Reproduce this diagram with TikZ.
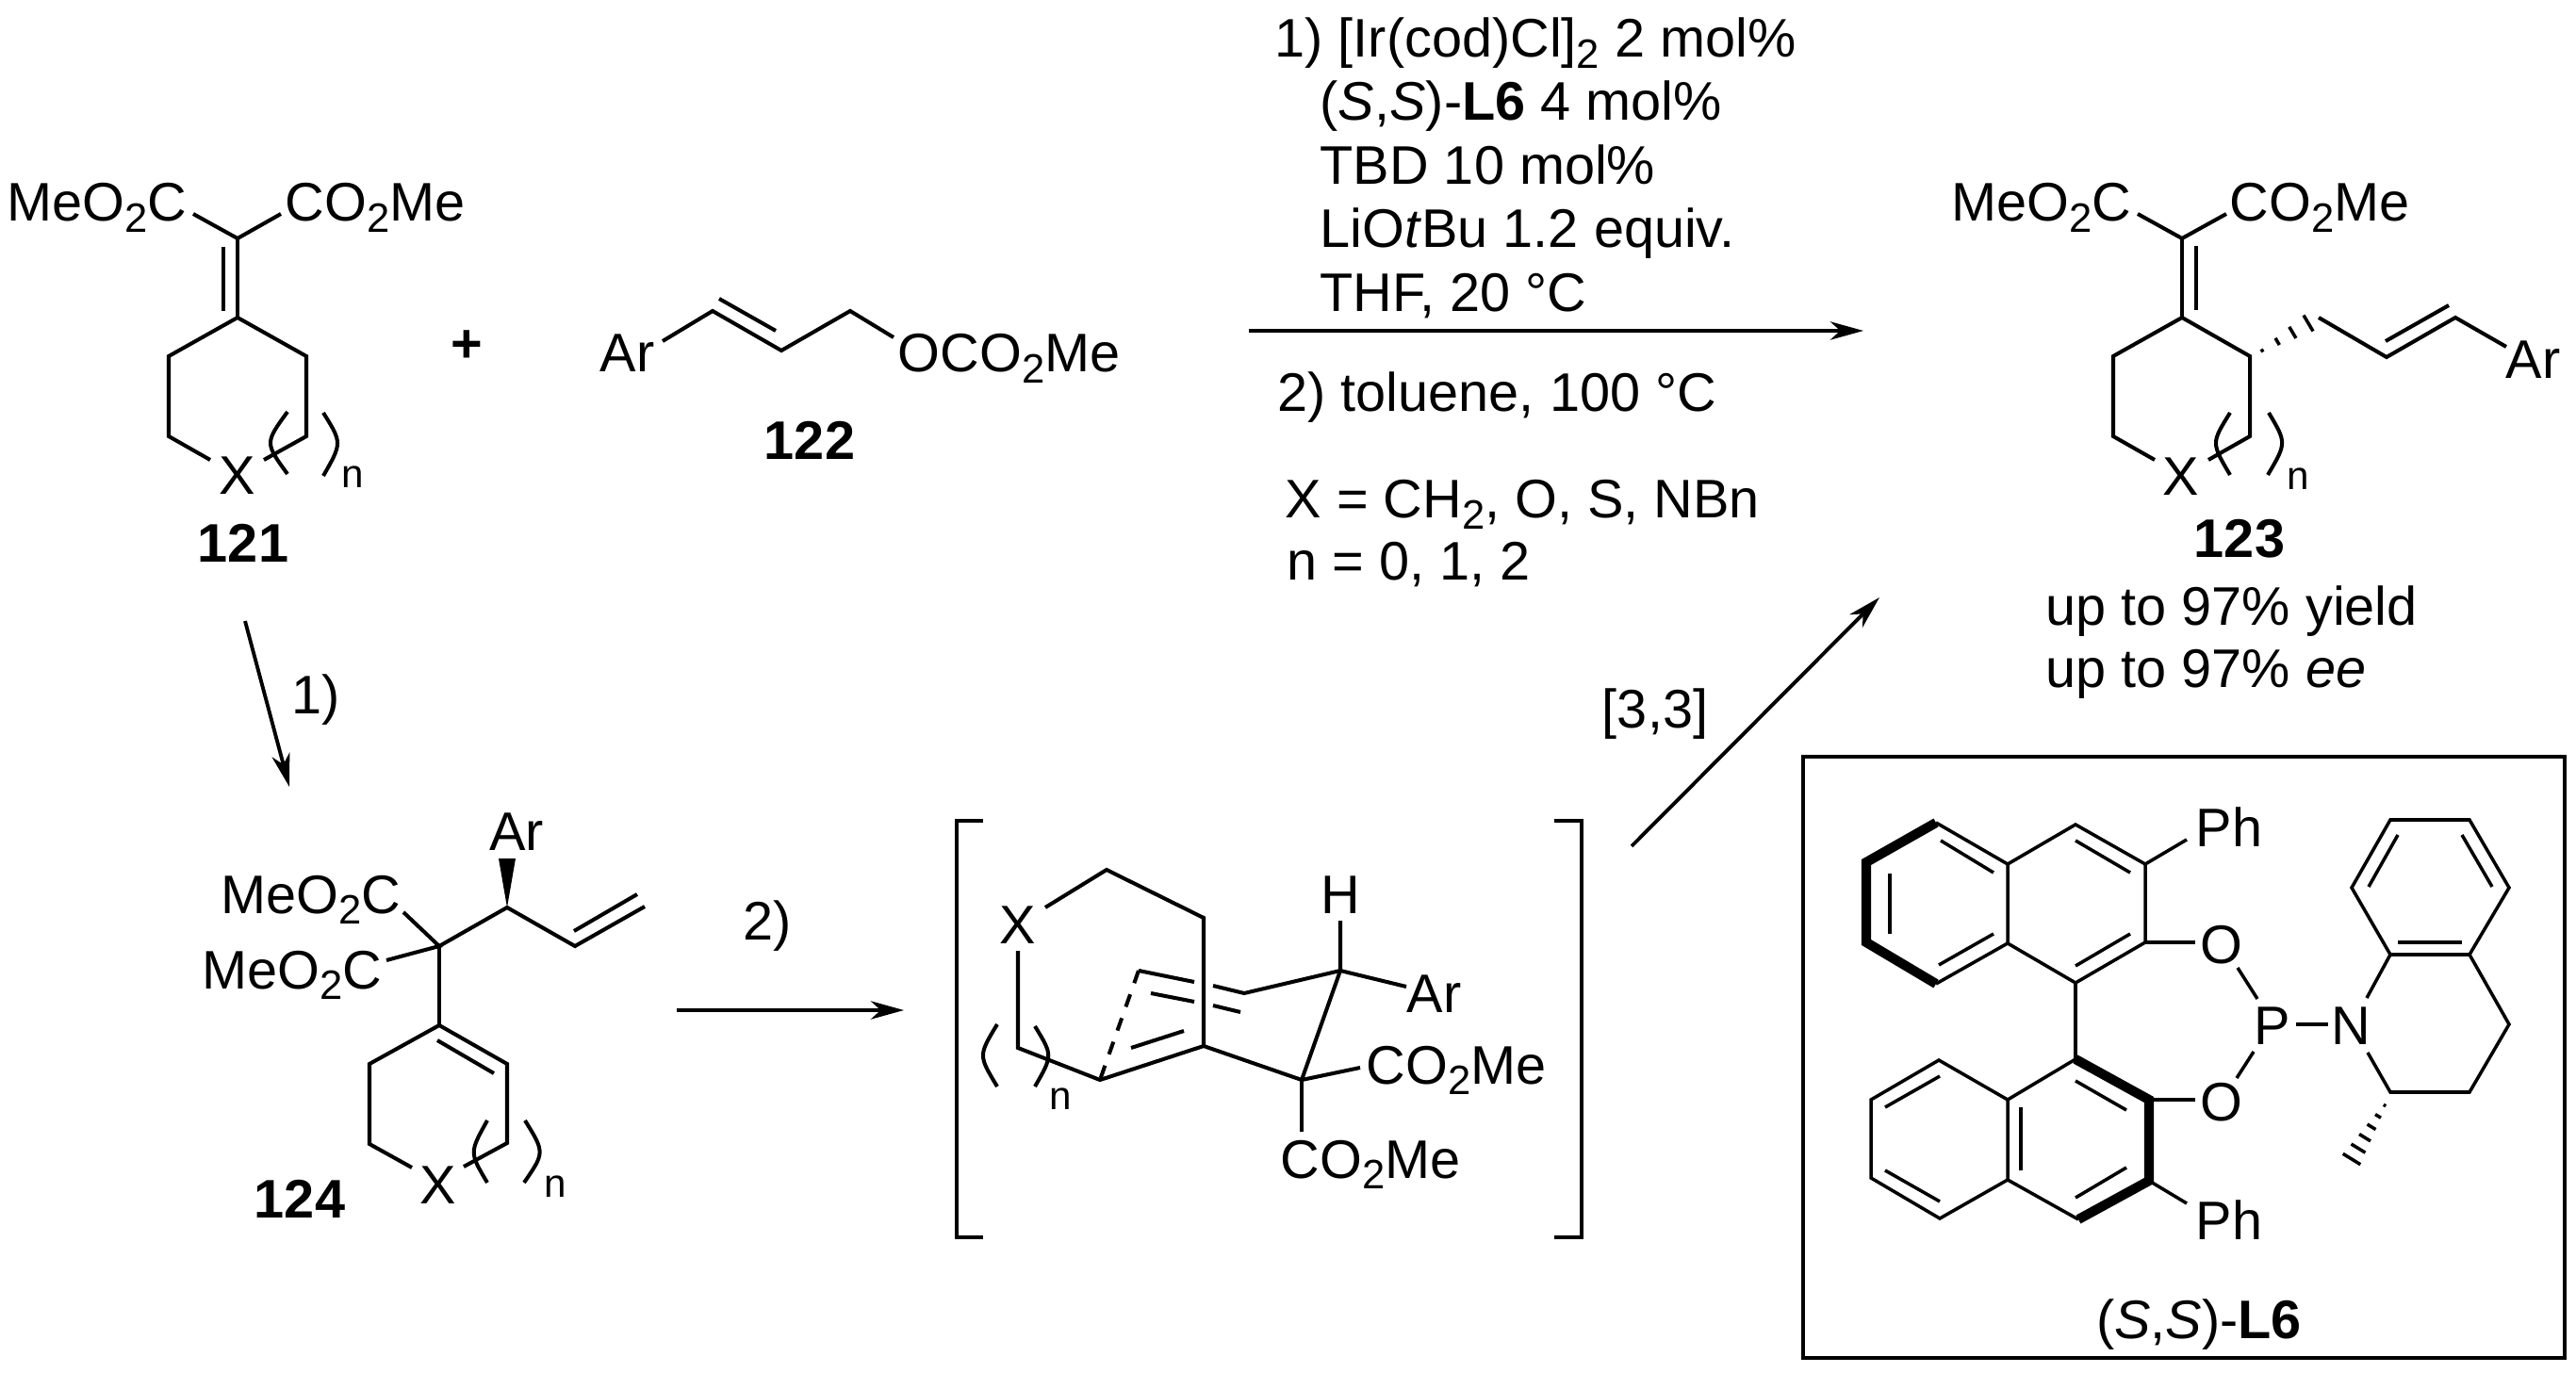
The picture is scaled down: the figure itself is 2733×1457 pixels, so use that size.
\documentclass[tikz,border=0pt]{standalone}
\usepackage{fontspec}
\setmainfont{Liberation Sans}
\usetikzlibrary{arrows.meta,calc}

\newcommand{\subtwo}{\raisebox{-3.4pt}{\fontsize{12.4pt}{12pt}\selectfont 2}}
\newcommand{\hashbond}[3]{%
  \coordinate (HashFar) at ($(#1)!2!(#2)$);
  \foreach \t/\w in {#3}
    \draw[hashline] ($(#1)!\t!(#2)!\w pt!90:(HashFar)$) -- ($(#1)!\t!(#2)!\w pt!-90:(HashFar)$);}

\tikzset{
  bond/.style={line width=1.15pt,line join=miter,line cap=butt},
  thinbond/.style={line width=1pt,line join=miter},
  boldbond/.style={line width=2.9pt,line join=miter},
  hashline/.style={line width=1pt},
  rxn/.style={line width=1.1pt,-{Stealth[length=10pt,width=5.5pt,inset=3pt]}},
  chem/.style={inner sep=0pt,anchor=base west,font=\fontsize{16.4pt}{19pt}\selectfont},
  midchem/.style={chem,anchor=base},
  subn/.style={inner sep=0pt,anchor=base west,font=\fontsize{12pt}{14pt}\selectfont},
  cpd/.style={midchem,font=\fontsize{16.4pt}{19pt}\selectfont\bfseries},
}

\begin{document}
\begin{tikzpicture}[x=0.1mm,y=-0.1mm]
    \useasboundingbox (0,0) rectangle (2733,1457);

    % 121
    \node[chem] (LeftEster121) at (7,235) {MeO\subtwo C};
    \node[chem] (RightEster121) at (302,235) {CO\subtwo Me};
    \node[midchem] (X121) at (252,525) {X};
    \node[subn] (N121) at (362,518) {n};
    \node[cpd] (Label121) at (258,597) {121};
    \node[chem,anchor=center] (Plus) at (495,368) {\bfseries +};
    \draw[bond] (205,227) -- (252,253) -- (298,227);
    \draw[bond] (252,253) -- (252,337);
    \draw[bond] (237,262) -- (237,330);
    \draw[bond] (223,488) -- (179,463) -- (179,378) -- (252,337) -- (325,378) -- (325,463) -- (280,488);
    \draw[bond] (305,437) .. controls (281,470) .. (305,503);
    \draw[bond] (343,438) .. controls (363,470) .. (343,505);

    % 122
    \node[chem] (Ar122) at (636,395) {Ar};
    \node[chem] (Ester122) at (952,395) {OCO\subtwo Me};
    \node[cpd] (Label122) at (859,488) {122};
    \draw[bond] (703,362) -- (756,330) -- (829,372) -- (902,330) -- (948,358);
    \draw[bond] (763,317) -- (823,351);

    % main arrow with its conditions
    \coordinate (MainTail) at (1325,351);
    \coordinate (MainTip) at (1977,351);
    \draw[rxn] (MainTail) to (MainTip);
    \node[chem] (CondOne) at (1352,61) {1) [Ir(cod)Cl]\subtwo{} 2 mol\%};
    \node[chem] (CondTwo) at (1400,128) {(\textit{S},\textit{S})-\textbf{L6} 4 mol\%};
    \node[chem] (CondThree) at (1400,196) {TBD 10 mol\%};
    \node[chem] (CondFour) at (1400,263) {LiO\textit{t}Bu 1.2 equiv.};
    \node[chem] (CondFive) at (1400,331) {THF, 20 °C};
    \node[chem] (CondSix) at (1355,437) {2) toluene, 100 °C};
    \node[chem] (CondSeven) at (1363,550) {X = CH\subtwo, O, S, NBn};
    \node[chem] (CondEight) at (1365,616) {n = 0, 1, 2};

    % 123
    \node[chem] (LeftEster123) at (2070,235) {MeO\subtwo C};
    \node[chem] (RightEster123) at (2365,235) {CO\subtwo Me};
    \node[midchem] (X123) at (2314,526) {X};
    \node[subn] (N123) at (2426,520) {n};
    \node[chem] (Ar123) at (2658,402) {Ar};
    \node[cpd] (Label123) at (2376,592) {123};
    \node[chem] (YieldText) at (2170,664) {up to 97\% yield};
    \node[chem] (EeText) at (2170,730) {up to 97\% \textit{ee}};
    \draw[bond] (2268,227) -- (2315,253) -- (2362,227);
    \draw[bond] (2315,253) -- (2315,337);
    \draw[bond] (2330,261) -- (2330,329);
    \draw[bond] (2286,488) -- (2242,463) -- (2242,378) -- (2315,337) -- (2387,378) -- (2387,463) -- (2343,488);
    \draw[bond] (2366,438) .. controls (2346,470) .. (2366,504);
    \draw[bond] (2407,438) .. controls (2426,470) .. (2406,504);
    \coordinate (HashStart123) at (2400,372);
    \coordinate (HashEnd123) at (2449,343);
    \hashbond{HashStart123}{HashEnd123}{0/0.5,0.33/1.2,0.66/2,1/2.8}
    \draw[bond] (2460,337) -- (2532,379) -- (2605,337) -- (2659,368);
    \draw[bond] (2531,362) -- (2598,324);

    % step 1) down to 124
    \coordinate (StepOneTail) at (260,659);
    \coordinate (StepOneTip) at (307,835);
    \draw[rxn] (StepOneTail) to (StepOneTip);
    \node[chem,anchor=center] (StepOneLabel) at (335,743) {1)};

    % 124
    \node[chem] (UpperEster124) at (234,969) {MeO\subtwo C};
    \node[chem] (LowerEster124) at (214,1049) {MeO\subtwo C};
    \node[chem,anchor=center] (Ar124) at (548,883) {Ar};
    \node[midchem] (X124) at (465,1277) {X};
    \node[subn] (N124) at (577,1270) {n};
    \node[cpd] (Label124) at (318,1292) {124};
    \draw[bond] (428,968) -- (466,1004) -- (410,1019);
    \draw[bond] (466,1004) -- (538,963) -- (610,1004) -- (684,962);
    \draw[bond] (609,988) -- (676,949);
    \fill (538,963) -- (529,911) -- (547,911) -- cycle;
    \draw[bond] (466,1004) -- (466,1088);
    \draw[bond] (437,1239) -- (392,1214) -- (392,1129) -- (466,1088) -- (538,1129) -- (538,1213) -- (492,1238);
    \draw[bond] (464,1104) -- (524,1139);
    \draw[bond] (517,1189) .. controls (498,1223) .. (517,1255);
    \draw[bond] (557,1189) .. controls (578,1223) .. (556,1255);

    % step 2)
    \coordinate (StepTwoTail) at (718,1072);
    \coordinate (StepTwoTip) at (959,1072);
    \draw[rxn] (StepTwoTail) to (StepTwoTip);
    \node[chem,anchor=center] (StepTwoLabel) at (814,983) {2)};

    % bracketed transition state
    \node[midchem] (XState) at (1080,1001) {X};
    \node[midchem] (HState) at (1422,969) {H};
    \node[chem] (ArState) at (1492,1074) {Ar};
    \node[chem] (RightEsterState) at (1449,1150) {CO\subtwo Me};
    \node[chem] (LowerEsterState) at (1358,1250) {CO\subtwo Me};
    \node[subn] (NState) at (1113,1177) {n};
    \draw[bond] (1043,871) -- (1015,871) -- (1015,1313) -- (1043,1313);
    \draw[bond] (1649,871) -- (1678,871) -- (1678,1313) -- (1649,1313);
    \draw[bond] (1109,963) -- (1174,923) -- (1277,974) -- (1277,1110) -- (1381,1146) -- (1443,1133);
    \draw[bond] (1080,1009) -- (1080,1112) -- (1167,1146) -- (1277,1110);
    \draw[bond] (1200,1112) -- (1256,1094);
    \draw[bond] (1381,1146) -- (1381,1201);
    \draw[bond] (1381,1146) -- (1422,1030);
    \draw[bond] (1422,977) -- (1422,1030) -- (1492,1047);
    \draw[bond] (1422,1030) -- (1320,1054) -- (1287,1046);
    \draw[bond] (1267,1042) -- (1208,1030);
    \draw[bond] (1316,1074) -- (1287,1067);
    \draw[bond] (1267,1063) -- (1221,1054);
    \draw[bond,dash pattern=on 4pt off 3.6pt] (1208,1030) -- (1167,1146);
    \draw[bond] (1058,1087) .. controls (1038,1120) .. (1058,1153);
    \draw[bond] (1098,1089) .. controls (1117,1120) .. (1098,1153);

    % step [3,3]
    \coordinate (ShiftTail) at (1731,898);
    \coordinate (ShiftTip) at (1994,634);
    \draw[rxn] (ShiftTail) to (ShiftTip);
    \node[midchem] (ShiftLabel) at (1756,772) {[3,3]};

    % L6 in its box
    \node[draw,line width=1.15pt,inner sep=0pt,minimum width=80.8cm/10,minimum height=63.8cm/10] (LigandBox) at (2317,1122) {};
    \node[chem] (PhUpper) at (2329,898) {Ph};
    \node[chem] (PhLower) at (2329,1315) {Ph};
    \node[midchem] (OUpper) at (2357,1022) {O};
    \node[midchem] (OLower) at (2357,1189) {O};
    \node[midchem] (PhosL6) at (2411,1108) {P};
    \node[midchem] (NL6) at (2494,1108) {N};
    \node[midchem] (LabelL6) at (2333,1420) {(\textit{S},\textit{S})-\textbf{L6}};
    % upper naphthyl
    \draw[boldbond] (2054,873) -- (1980,915) -- (1980,1000) -- (2054,1044);
    \draw[thinbond] (2054,873) -- (2130,917) -- (2130,1001) -- (2054,1044);
    \draw[thinbond] (2130,917) -- (2202,875) -- (2276,917) -- (2276,1000) -- (2202,1043) -- (2130,1001);
    \draw[thinbond] (2059,892) -- (2115,926);
    \draw[thinbond] (2005,927) -- (2005,991);
    \draw[thinbond] (2057,1024) -- (2115,991);
    \draw[thinbond] (2202,892) -- (2260,926);
    \draw[thinbond] (2202,1025) -- (2260,991);
    \draw[thinbond] (2276,917) -- (2320,891);
    \draw[thinbond] (2276,1000) -- (2329,1000);
    \draw[thinbond] (2202,1043) -- (2202,1124);
    % lower naphthyl
    \draw[boldbond] (2202,1124) -- (2280,1167) -- (2280,1253) -- (2205,1294);
    \draw[thinbond] (2202,1124) -- (2130,1167) -- (2130,1252) -- (2205,1294);
    \draw[thinbond] (2130,1167) -- (2057,1125) -- (1985,1167) -- (1985,1250) -- (2058,1293) -- (2130,1252);
    \draw[thinbond] (2202,1147) -- (2256,1178);
    \draw[thinbond] (2256,1239) -- (2202,1271);
    \draw[thinbond] (2144,1175) -- (2144,1242);
    \draw[thinbond] (2058,1142) -- (2000,1175);
    \draw[thinbond] (2000,1242) -- (2058,1275);
    \draw[thinbond] (2280,1167) -- (2329,1167);
    \draw[thinbond] (2280,1253) -- (2320,1277);
    % phosphoramidite part
    \draw[thinbond] (2374,1027) -- (2395,1060);
    \draw[thinbond] (2391,1116) -- (2373,1144);
    \draw[thinbond] (2436,1087) -- (2470,1087);
    % tetrahydroquinoline
    \draw[thinbond] (2536,870) -- (2620,870) -- (2662,942) -- (2620,1013) -- (2536,1013) -- (2495,942) -- cycle;
    \draw[thinbond] (2544,886) -- (2513,941);
    \draw[thinbond] (2612,886) -- (2644,941);
    \draw[thinbond] (2544,1000) -- (2612,1000);
    \draw[thinbond] (2536,1013) -- (2511,1059);
    \draw[thinbond] (2512,1117) -- (2536,1159) -- (2620,1159) -- (2662,1087) -- (2620,1013);
    \coordinate (HashStartL6) at (2530,1173);
    \coordinate (HashEndL6) at (2495,1230);
    \hashbond{HashStartL6}{HashEndL6}{0/0.4,0.2/1,0.4/1.5,0.6/2,0.8/2.5,1/3.1}
\end{tikzpicture}
\end{document}
